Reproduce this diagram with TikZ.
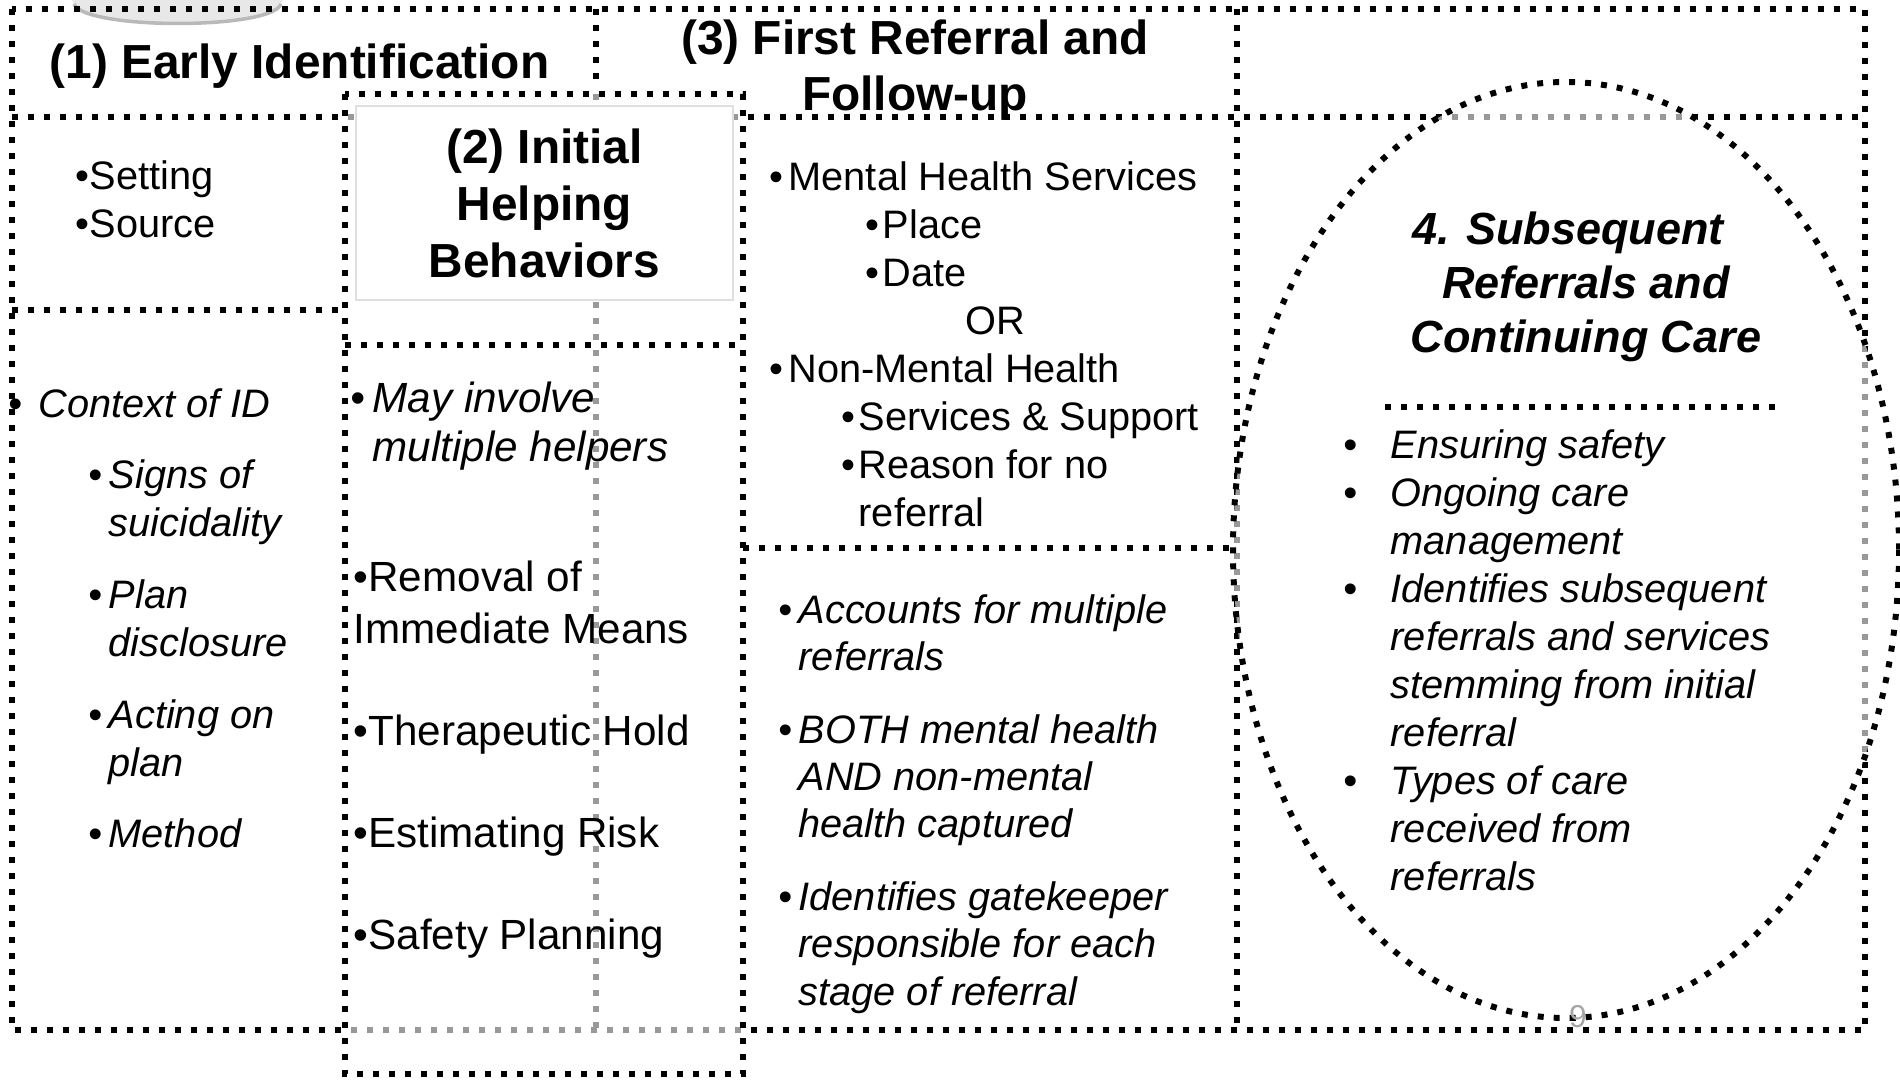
\documentclass[tikz,border=0pt]{standalone}
\usepackage{fontspec}
\setmainfont{Liberation Sans}
\usetikzlibrary{positioning}

\tikzset{
  dotline/.style={line width=1.7pt, dash pattern=on 1.7pt off 2.85pt},
  body/.style={anchor=base west, align=left, inner sep=0pt, font=\fontsize{11.3}{#1}\selectfont},
  body/.default=13.66pt,
  slant/.style={body=#1, font=\fontsize{11.3}{#1}\selectfont\itshape},
  slant/.default=13.66pt,
  head/.style={inner sep=0pt, align=center, font=\bfseries\fontsize{13.6}{16.2}\selectfont},
}
\newcommand{\bu}[1][1pt]{\llap{\textbullet\hspace{#1}}}

\begin{document}
\begin{tikzpicture}[x=0.01cm,y=-0.01cm]
\useasboundingbox (0,0) rectangle (1900,1080);
% clip art cut off at the top
\fill[gray!18] (72,0) .. controls (80,32) and (276,32) .. (283,0) -- cycle;
\draw[gray!55, line width=1pt] (74,4) .. controls (84,30) and (272,30) .. (281,4);

% frame and columns
\draw[dotline] (12,9) rectangle (1865,1030);
\draw[dotline] (12,117) -- (1865,117);
\draw[dotline] (596,9) -- (596,82);
\draw[dotline] (596,94) -- (596,1030);
\draw[dotline] (1237,9) -- (1237,1030);
\draw[dotline] (12,310) -- (345,310);
\draw[dotline] (743,548) -- (1237,548);

% column 2 panel
\draw[dotline, fill=white, fill opacity=.6] (345,94) rectangle (743,1074);
\draw[dotline] (345,345) -- (743,345);
\node[head, draw=gray!25, line width=.5pt, fill=white, minimum width=3.77cm, minimum height=1.94cm] (helping) at (544.5,203) {(2) Initial\\Helping\\Behaviors};

% column 4 oval
\draw[dotline, fill=white, fill opacity=.6] (1566,550) ellipse [x radius=333, y radius=468];
\draw[dotline] (1385,407) -- (1776,407);

% headings (base = last line)
\node[head, anchor=base west] (early) at (49,79) {(1) Early Identification};
\node[head, anchor=base] (first) at (915,111) {(3) First Referral and\\Follow-up};
\node[head, anchor=base, font=\bfseries\itshape\fontsize{12.8}{15.36}\selectfont] (subseq) at (1586,353) {4. Subsequent\hspace*{0.8em}\\Referrals and\\Continuing Care};

% column 1
\node[body] (where) at (75,238) {\textbullet Setting\\\textbullet Source};
\node[slant] (context) at (38,418) {\bu[4.5pt]Context of ID};
\node[slant] (signs) at (108,848) {\bu[1.7pt]Signs of\\suicidality\\[6.8pt]\bu[1.7pt]Plan\\disclosure\\[6.8pt]\bu[1.7pt]Acting on\\plan\\[6.8pt]\bu[1.7pt]Method};

% column 2
\node[body, font=\fontsize{12}{14.2}\selectfont\itshape] (helpers) at (372,462) {\bu[2pt]May involve\\multiple helpers};
\node[body, font=\fontsize{12}{14.8}\selectfont] (means) at (353,949) {\textbullet Removal of\\Immediate Means\\[14.2pt]\textbullet Therapeutic Hold\\[14.2pt]\textbullet Estimating Risk\\[14.2pt]\textbullet Safety Planning};

% column 3
\node[body] (services) at (788,527) {\bu[1.4pt]Mental Health Services\\\hspace*{.94cm}\bu Place\\\hspace*{.94cm}\bu Date\\\hspace*{1.77cm}OR\\\bu[1.4pt]Non-Mental Health\\\hspace*{.7cm}\bu Services \& Support\\\hspace*{.7cm}\bu Reason for no\\\hspace*{.7cm}referral};
\node[slant=13.37pt] (multiple) at (798,1005) {\bu[1.7pt]Accounts for multiple\\referrals\\[7.5pt]\bu[1.7pt]BOTH mental health\\AND non-mental\\health captured\\[7.5pt]\bu[1.7pt]Identifies gatekeeper\\responsible for each\\stage of referral};

% column 4
\node[slant] (care) at (1390,891) {\bu[9.4pt]Ensuring safety\\\bu[9.4pt]Ongoing care\\management\\\bu[9.4pt]Identifies subsequent\\referrals and services\\stemming from initial\\referral\\\bu[9.4pt]Types of care\\received from\\referrals};
\node[text=gray!70, inner sep=0pt, font=\fontsize{9}{9}\selectfont] (slideno) at (1578,1017) {9};
\end{tikzpicture}
\end{document}
